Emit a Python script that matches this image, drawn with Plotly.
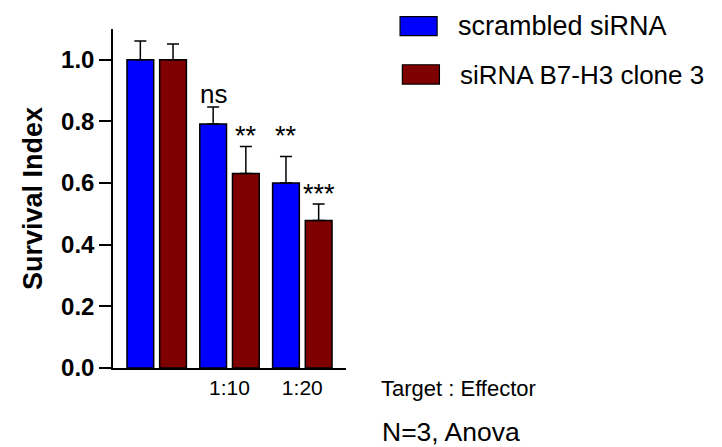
import plotly.graph_objects as go

# ---- data ----
groups = [0, 1, 2]
tick_labels = ["", "1:10", "1:20"]
series_names = ["scrambled siRNA", "siRNA B7-H3 clone 3"]
scrambled = [1.0, 0.792, 0.600]
scrambled_err = [0.061, 0.055, 0.086]
clone3 = [1.0, 0.631, 0.479]
clone3_err = [0.051, 0.088, 0.053]
sig_blue = ["", "ns", "**"]
sig_red = ["", "**", "***"]
y_ticks = [0.0, 0.2, 0.4, 0.6, 0.8, 1.0]

BLUE = "#0000FF"
RED = "#7F0000"
FONT = "Liberation Sans, Arial, sans-serif"

W, H = 722, 447
PL, PR, PT, PB = 113.3, 346.0, 29.3, 367.7


def px_x(px):
    return (px - PL) / (PR - PL)


def px_y(py):
    return (PB - py) / (PB - PT)


BAR_W = 0.367
fig = go.Figure()
fig.add_trace(go.Bar(
    x=groups, y=scrambled, width=BAR_W, offset=-0.408, name=series_names[0],
    marker=dict(color=BLUE, line=dict(color="black", width=1.5)),
    error_y=dict(type="data", array=scrambled_err, symmetric=False,
                 arrayminus=[0] * len(scrambled), color="black", thickness=1.5, width=6),
    showlegend=False))
fig.add_trace(go.Bar(
    x=groups, y=clone3, width=BAR_W, offset=0.041, name=series_names[1],
    marker=dict(color=RED, line=dict(color="black", width=1.5)),
    error_y=dict(type="data", array=clone3_err, symmetric=False,
                 arrayminus=[0] * len(clone3), color="black", thickness=1.5, width=6),
    showlegend=False))

annotations = []
# significance labels
blue_c = -0.408 + BAR_W / 2
red_c = 0.041 + BAR_W / 2
for g, lab, v, e in zip(groups, sig_blue, scrambled, scrambled_err):
    if lab == "ns":
        annotations.append(dict(x=g + blue_c, y=v + e, xref="x", yref="y", text=lab,
                                showarrow=False, yanchor="bottom", yshift=-4,
                                font=dict(family=FONT, size=26, color="black")))
for g, lab, v, e in zip(groups, sig_red, clone3, clone3_err):
    if not lab:
        continue
    annotations.append(dict(x=g + red_c, y=v + e, xref="x", yref="y", text=lab,
                            showarrow=False, yanchor="bottom", yshift=-7,
                            font=dict(family=FONT, size=27, color="black")))
# blue "**" aligned with red "**" of group 1:10
annotations.append(dict(x=groups[2] + blue_c, y=clone3[1] + clone3_err[1], xref="x", yref="y",
                        text=sig_blue[2], showarrow=False, yanchor="bottom", yshift=-7,
                        font=dict(family=FONT, size=27, color="black")))

# manual legend
shapes = []
leg = [(BLUE, 400, 437, 17, 36, series_names[0], 27, 456, 26.5),
       (RED, 402.3, 439.3, 65, 84.3, series_names[1], 26, 458, 75)]
for col, x0, x1, y0, y1, name, fs, tx, ty in leg:
    shapes.append(dict(type="rect", xref="paper", yref="paper",
                       x0=px_x(x0), x1=px_x(x1), y0=px_y(y1), y1=px_y(y0),
                       fillcolor=col, line=dict(color="black", width=1.2)))
    annotations.append(dict(x=px_x(tx), y=px_y(ty), xref="paper", yref="paper",
                            text=name, showarrow=False, xanchor="left", yanchor="middle",
                            font=dict(family=FONT, size=fs, color="black")))

annotations.append(dict(x=px_x(379), y=px_y(388), xref="paper", yref="paper",
                        text="Target : Effector", showarrow=False, xanchor="left",
                        yanchor="middle", font=dict(family=FONT, size=22, color="black")))
annotations.append(dict(x=px_x(380), y=px_y(432), xref="paper", yref="paper",
                        text="N=3, Anova", showarrow=False, xanchor="left",
                        yanchor="middle", font=dict(family=FONT, size=26.5, color="black")))

fig.update_layout(
    template="none",
    width=W, height=H,
    margin=dict(l=PL, r=W - PR, t=PT, b=H - PB, pad=0, autoexpand=False),
    paper_bgcolor="white", plot_bgcolor="white",
    showlegend=False,
    barmode="group",
    shapes=shapes,
    annotations=annotations,
    xaxis=dict(range=[-0.6, 2.6], tickvals=groups, ticktext=tick_labels,
               showgrid=False, zeroline=False, showline=True, linecolor="black",
               linewidth=1.5, ticks="", tickfont=dict(family=FONT, size=21, color="black"),
               fixedrange=True),
    yaxis=dict(range=[0, 1.1], tickvals=y_ticks, tickformat=".1f",
               showgrid=False, zeroline=False, showline=True, linecolor="black",
               linewidth=1.5, ticks="outside", ticklen=12, tickwidth=1.5, tickcolor="black",
               tickfont=dict(family=FONT, size=24, color="black", weight="bold"),
               title=dict(text="Survival Index", standoff=11,
                          font=dict(family=FONT, size=27, color="black", weight="bold")),
               fixedrange=True),
)

fig.write_html("out.html", config={"displayModeBar": False},
               post_script="document.body.style.margin='0';")
